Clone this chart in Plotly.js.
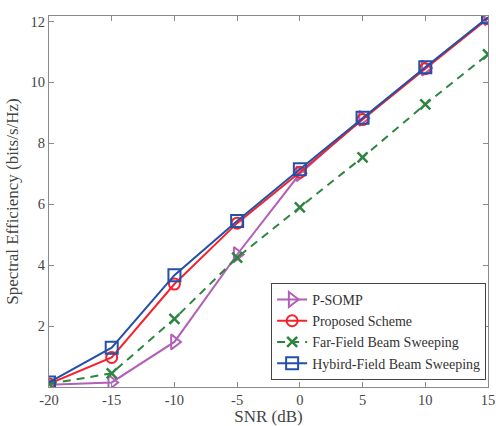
<!DOCTYPE html>
<html>
<head>
<meta charset="utf-8">
<script src="https://cdn.plot.ly/plotly-3.0.1.min.js"></script>
<style>html,body{margin:0;padding:0;background:#fff;}#chart{width:496px;height:426px;}</style>
</head>
<body>
<div id="chart"></div>
<script>
const snr = [-20, -15, -10, -5, 0, 5, 10, 15];
const psomp = [0.07, 0.15, 1.48, 4.35, 7.0, 8.82, 10.47, 12.12];
const proposed = [0.1, 0.97, 3.38, 5.38, 7.05, 8.78, 10.45, 12.1];
const farField = [0.1, 0.45, 2.24, 4.25, 5.9, 7.54, 9.28, 10.92];
const hybrid = [0.15, 1.29, 3.67, 5.45, 7.15, 8.84, 10.5, 12.14];
const names = ['P-SOMP', 'Proposed Scheme', 'Far-Field Beam Sweeping', 'Hybird-Field Beam Sweeping'];
const xTicks = [-20, -15, -10, -5, 0, 5, 10, 15];
const yTicks = [2, 4, 6, 8, 10, 12];

const font = 'Liberation Serif';
const traces = [
  {x: snr, y: psomp, name: names[0], mode: 'lines+markers',
   line: {color: '#b15fb8', width: 2},
   marker: {symbol: 'triangle-right-open', size: 13, color: '#b15fb8', line: {width: 2}}},
  {x: snr, y: proposed, name: names[1], mode: 'lines+markers',
   line: {color: '#f5222d', width: 2},
   marker: {symbol: 'circle-open', size: 11, color: '#f5222d', line: {width: 2}}},
  {x: snr, y: farField, name: names[2], mode: 'lines+markers',
   line: {color: '#2e8540', width: 2, dash: '8px,6px'},
   marker: {symbol: 'x-thin-open', size: 10, color: '#2e8540', line: {width: 2.5, color: '#2e8540'}}},
  {x: snr, y: hybrid, name: names[3], mode: 'lines+markers',
   line: {color: '#2350a8', width: 2},
   marker: {symbol: 'square-open', size: 12, color: '#2350a8', line: {width: 2}}}
];

const axisCommon = {
  showline: true, linecolor: '#8a8a8a', linewidth: 1, mirror: 'ticks',
  ticks: 'inside', ticklen: 5, tickcolor: '#8a8a8a', tickwidth: 1,
  showgrid: false, zeroline: false,
  tickfont: {family: font, size: 14.5, color: '#444'}
};

const layout = {
  width: 496, height: 426,
  margin: {l: 49, r: 8, t: 16, b: 39},
  paper_bgcolor: '#fff', plot_bgcolor: '#fff',
  showlegend: true,
  font: {family: font},
  xaxis: Object.assign({}, axisCommon, {
    range: [-20, 15], tickvals: xTicks, ticktext: xTicks.map(String),
    title: {text: 'SNR (dB)', font: {family: font, size: 17, color: '#444'}, standoff: 3}
  }),
  yaxis: Object.assign({}, axisCommon, {
    range: [0, 12.18], tickvals: yTicks, ticktext: yTicks.map(String),
    title: {text: 'Spectral Efficiency (bits/s/Hz)', font: {family: font, size: 17, color: '#444'}, standoff: 7}
  }),
  legend: {
    x: 0.506, y: 0.019, xanchor: 'left', yanchor: 'bottom',
    bgcolor: '#fff', bordercolor: '#444', borderwidth: 1,
    font: {family: font, size: 14, color: '#333'},
    tracegroupgap: 0, itemwidth: 30
  }
};

Plotly.newPlot('chart', traces, layout, {displayModeBar: false, staticPlot: true});
</script>
</body>
</html>
